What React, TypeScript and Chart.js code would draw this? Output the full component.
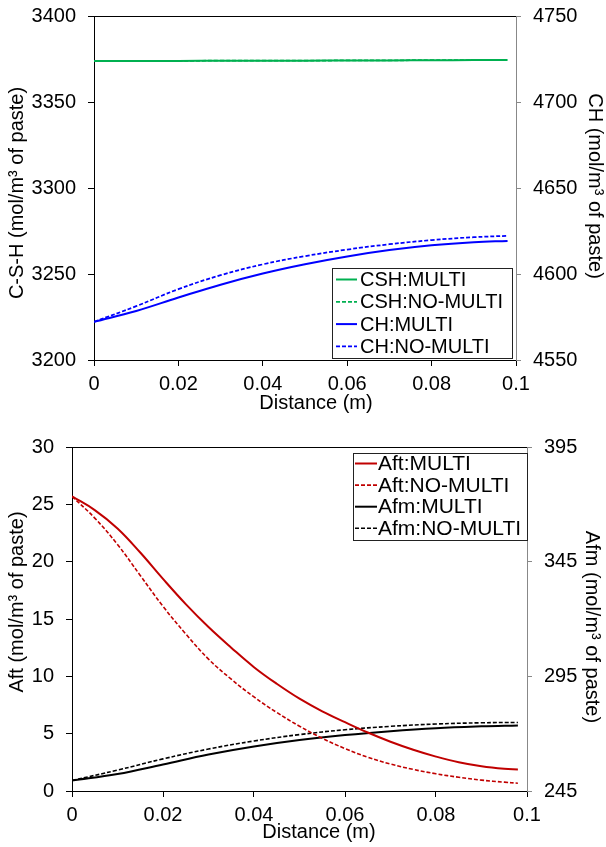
import React, { useEffect, useRef } from "react";
import { Chart, registerables } from "chart.js";
Chart.register(...registerables);

const FONT = '"Liberation Sans", Arial, Helvetica, sans-serif';
const FS = 20;

// ---------- Top chart data ----------
const xTop = [0, 0.01, 0.02, 0.03, 0.04, 0.05, 0.06, 0.07, 0.08, 0.09, 0.098];
const cshMulti = [3373.8, 3373.85, 3373.9, 3373.95, 3374.0, 3374.05, 3374.1, 3374.2, 3374.25, 3374.35, 3374.4];
const cshNoMulti = [3373.85, 3373.9, 3373.95, 3374.0, 3374.05, 3374.1, 3374.15, 3374.25, 3374.3, 3374.4, 3374.45];
const chMulti = [4572.2, 4578.5, 4586.3, 4593.8, 4600.3, 4605.7, 4610.2, 4613.9, 4616.7, 4618.5, 4619.2];
const chNoMulti = [4572.2, 4581.3, 4591.2, 4599.3, 4605.6, 4610.4, 4614.2, 4617.3, 4619.7, 4621.4, 4622.2];

// ---------- Bottom chart data ----------
const xAft = [0, 0.005, 0.01, 0.015, 0.02, 0.025, 0.03, 0.035, 0.04, 0.045, 0.05, 0.055, 0.06, 0.065, 0.07, 0.075, 0.08, 0.085, 0.09, 0.095, 0.098];
const aftMulti = [25.7, 24.5, 22.9, 20.8, 18.5, 16.3, 14.3, 12.5, 10.8, 9.35, 8.05, 6.95, 6.0, 5.1, 4.3, 3.6, 3.0, 2.5, 2.15, 1.93, 1.87];
const aftNoMulti = [25.7, 23.8, 21.5, 18.8, 16.1, 13.7, 11.5, 9.75, 8.2, 6.85, 5.65, 4.6, 3.7, 2.95, 2.35, 1.88, 1.5, 1.2, 0.95, 0.77, 0.68];
const xAfm = [0, 0.01, 0.02, 0.03, 0.04, 0.05, 0.06, 0.07, 0.08, 0.09, 0.098];
const afmMulti = [249.6, 252.4, 256.6, 260.9, 264.4, 267.2, 269.4, 271.1, 272.4, 273.2, 273.6];
const afmNoMulti = [249.6, 254.1, 259.0, 263.3, 266.8, 269.6, 271.7, 273.2, 274.2, 274.75, 274.9];

// ---------- Ticks ----------
const xTicks = [0, 0.02, 0.04, 0.06, 0.08, 0.1];
const xTickLabels = ["0", "0.02", "0.04", "0.06", "0.08", "0.1"];
const cshTicks = [3200, 3250, 3300, 3350, 3400];
const chTicks = [4550, 4600, 4650, 4700, 4750];
const aftTicks = [0, 5, 10, 15, 20, 25, 30];
const afmTicks = [245, 295, 345, 395];

const pts = (xs: number[], ys: number[]) => xs.map((x, i) => ({ x, y: ys[i] }));

type Layout = {
  leftW: number; rightW: number; xH: number; padTop: number;
  xTitle: [number, number]; lTitle: [number, number]; rTitle: [number, number];
  xTitleText: string; lTitleText: string; rTitleText: string;
  legend: { x: number; y: number; w: number; h: number; row0: number; step: number; l1: number; l2: number; tx: number; fs: number };
  lMin: number; lMax: number; lTicks: number[]; rMin: number; rMax: number; rTicks: number[];
};

const zeroPad = (s: any) => {
  s.paddingTop = 0; s.paddingBottom = 0; s.paddingLeft = 0; s.paddingRight = 0;
};

function makeConfig(datasets: any[], L: Layout): any {
  const deco = {
    id: "deco",
    afterDraw(chart: any) {
      const ctx = chart.ctx;
      const a = chart.chartArea;
      ctx.save();
      // top border
      ctx.strokeStyle = "#000";
      ctx.lineWidth = 1;
      ctx.beginPath();
      ctx.moveTo(Math.round(a.left), Math.round(a.top) + 0.5);
      ctx.lineTo(Math.round(a.right), Math.round(a.top) + 0.5);
      ctx.stroke();
      // titles
      ctx.fillStyle = "#000";
      ctx.font = `${FS}px ${FONT}`;
      ctx.textAlign = "center";
      ctx.textBaseline = "middle";
      ctx.fillText(L.xTitleText, L.xTitle[0], L.xTitle[1]);
      ctx.save();
      ctx.translate(L.lTitle[0], L.lTitle[1]);
      ctx.rotate(-Math.PI / 2);
      ctx.fillText(L.lTitleText, 0, 0);
      ctx.restore();
      ctx.save();
      ctx.translate(L.rTitle[0], L.rTitle[1]);
      ctx.rotate(Math.PI / 2);
      ctx.fillText(L.rTitleText, 0, 0);
      ctx.restore();
      // legend
      const g = L.legend;
      ctx.fillStyle = "#fff";
      ctx.fillRect(g.x, g.y, g.w, g.h);
      ctx.strokeStyle = "#222";
      ctx.lineWidth = 1;
      ctx.strokeRect(g.x + 0.5, g.y + 0.5, g.w, g.h);
      ctx.font = `${g.fs}px ${FONT}`;
      chart.data.datasets.forEach((ds: any, i: number) => {
        const y = g.row0 + i * g.step;
        ctx.strokeStyle = ds.borderColor;
        ctx.lineWidth = ds.borderWidth;
        ctx.setLineDash(ds.borderDash || []);
        ctx.beginPath();
        ctx.moveTo(g.l1, y);
        ctx.lineTo(g.l2, y);
        ctx.stroke();
        ctx.setLineDash([]);
        ctx.fillStyle = "#000";
        ctx.textAlign = "left";
        ctx.fillText(ds.label, g.tx, y + 1);
      });
      ctx.restore();
    },
  };
  const tickFont = { family: FONT, size: FS };
  return {
    type: "line",
    data: { datasets },
    options: {
      responsive: false,
      animation: false,
      devicePixelRatio: 1,
      layout: { padding: { top: L.padTop, left: 0, right: 0, bottom: 0 } },
      plugins: { legend: { display: false }, tooltip: { enabled: false } },
      elements: { point: { radius: 0 }, line: { tension: 0.4, cubicInterpolationMode: "default" } },
      scales: {
        x: {
          type: "linear", position: "bottom", min: 0, max: 0.1,
          afterBuildTicks: (s: any) => { s.ticks = xTicks.map((v) => ({ value: v })); },
          afterFit: (s: any) => { s.height = L.xH; zeroPad(s); },
          ticks: { font: tickFont, color: "#000", padding: 6, maxRotation: 0, autoSkip: false,
            callback: (_v: any, i: number) => xTickLabels[i] },
          grid: { display: true, drawOnChartArea: false, drawTicks: true, tickLength: 6, color: "#000" },
          border: { display: true, color: "#000", width: 1 },
        },
        y: {
          type: "linear", position: "left", min: L.lMin, max: L.lMax,
          afterBuildTicks: (s: any) => { s.ticks = L.lTicks.map((v) => ({ value: v })); },
          afterFit: (s: any) => { s.width = L.leftW; zeroPad(s); },
          ticks: { font: tickFont, color: "#000", padding: 12, callback: (v: any) => String(v) },
          grid: { display: true, drawOnChartArea: false, drawTicks: true, tickLength: 6, color: "#000" },
          border: { display: true, color: "#000", width: 1 },
        },
        y1: {
          type: "linear", position: "right", min: L.rMin, max: L.rMax,
          afterBuildTicks: (s: any) => { s.ticks = L.rTicks.map((v) => ({ value: v })); },
          afterFit: (s: any) => { s.width = L.rightW; zeroPad(s); },
          ticks: { font: tickFont, color: "#000", padding: 12, callback: (v: any) => String(v) },
          grid: { display: true, drawOnChartArea: false, drawTicks: true, tickLength: 5, color: "#888" },
          border: { display: true, color: "#888", width: 1 },
        },
      },
    },
    plugins: [deco],
  };
}

const GREEN = "#00b050";
const BLUE = "#0000ff";
const RED = "#c00000";
const BLACK = "#000000";

function ChartCanvas({ config, width, height, top }: { config: () => any; width: number; height: number; top: number }) {
  const ref = useRef<HTMLCanvasElement | null>(null);
  useEffect(() => {
    if (!ref.current) return;
    const c = new Chart(ref.current, config());
    return () => c.destroy();
  }, []);
  return (
    <canvas ref={ref} width={width} height={height}
      style={{ position: "absolute", left: 0, top, width, height }} />
  );
}

export default function App() {
  const topConfig = () =>
    makeConfig(
      [
        { label: "CSH:MULTI", data: pts(xTop, cshMulti), yAxisID: "y", borderColor: GREEN, borderWidth: 2, borderDash: [] },
        { label: "CSH:NO-MULTI", data: pts(xTop, cshNoMulti), yAxisID: "y", borderColor: GREEN, borderWidth: 1.75, borderDash: [4, 2] },
        { label: "CH:MULTI", data: pts(xTop, chMulti), yAxisID: "y1", borderColor: BLUE, borderWidth: 2, borderDash: [] },
        { label: "CH:NO-MULTI", data: pts(xTop, chNoMulti), yAxisID: "y1", borderColor: BLUE, borderWidth: 1.75, borderDash: [4, 2] },
      ],
      {
        leftW: 94, rightW: 90, xH: 60, padTop: 16,
        xTitle: [316, 403], lTitle: [17, 193], rTitle: [595, 186],
        xTitleText: "Distance (m)",
        lTitleText: "C-S-H (mol/m³ of paste)",
        rTitleText: "CH (mol/m³ of paste)",
        legend: { x: 332, y: 268, w: 180, h: 90, row0: 279.5, step: 22.3, l1: 336, l2: 357, tx: 360, fs: 20 },
        lMin: 3200, lMax: 3400, lTicks: cshTicks, rMin: 4550, rMax: 4750, rTicks: chTicks,
      }
    );
  const bottomConfig = () =>
    makeConfig(
      [
        { label: "Aft:MULTI", data: pts(xAft, aftMulti), yAxisID: "y", borderColor: RED, borderWidth: 2, borderDash: [] },
        { label: "Aft:NO-MULTI", data: pts(xAft, aftNoMulti), yAxisID: "y", borderColor: RED, borderWidth: 1.6, borderDash: [4, 2] },
        { label: "Afm:MULTI", data: pts(xAfm, afmMulti), yAxisID: "y1", borderColor: BLACK, borderWidth: 2, borderDash: [] },
        { label: "Afm:NO-MULTI", data: pts(xAfm, afmNoMulti), yAxisID: "y1", borderColor: BLACK, borderWidth: 1.6, borderDash: [4, 2] },
      ],
      {
        leftW: 72, rightW: 79, xH: 56, padTop: 47,
        xTitle: [319, 432], lTitle: [17, 202], rTitle: [592, 227],
        xTitleText: "Distance (m)",
        lTitleText: "Aft (mol/m³ of paste)",
        rTitleText: "Afm (mol/m³ of paste)",
        legend: { x: 353, y: 53, w: 174, h: 87, row0: 63.5, step: 21.6, l1: 355, l2: 377, tx: 378, fs: 21 },
        lMin: 0, lMax: 30, lTicks: aftTicks, rMin: 245, rMax: 395, rTicks: afmTicks,
      }
    );
  return (
    <div style={{ position: "absolute", left: 0, top: 0, width: 606, height: 847, background: "#fff" }}>
      <ChartCanvas config={topConfig} width={606} height={420} top={0} />
      <ChartCanvas config={bottomConfig} width={606} height={447} top={400} />
    </div>
  );
}
